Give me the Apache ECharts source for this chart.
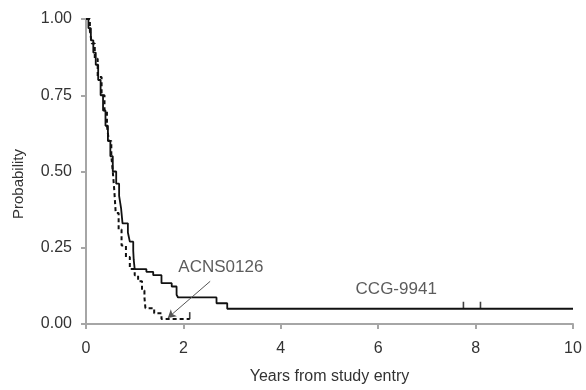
<!DOCTYPE html>
<html>
<head>
<meta charset="utf-8">
<script src="https://cdn.jsdelivr.net/npm/echarts@6/dist/echarts.min.js"></script>
<style>
html,body{margin:0;padding:0;background:#fff;}
#chart{width:586px;height:390px;}
</style>
</head>
<body>
<div id="chart"></div>
<script>
// CCG-9941 (solid) Kaplan-Meier: time (years) and survival after each step
var ccgTime = [0, 0.05, 0.1, 0.15, 0.2, 0.25, 0.3, 0.35, 0.4, 0.45, 0.5, 0.55, 0.62, 0.68, 0.72, 0.75, 0.86, 0.9, 0.97, 0.98, 1.0, 1.24, 1.38, 1.55, 1.76, 1.86, 1.89, 2.68, 2.9, 10];
var ccgSurv = [1.0, 0.97, 0.93, 0.89, 0.85, 0.80, 0.75, 0.70, 0.65, 0.60, 0.55, 0.50, 0.46, 0.42, 0.38, 0.33, 0.30, 0.27, 0.24, 0.21, 0.18, 0.171, 0.16, 0.134, 0.123, 0.096, 0.087, 0.068, 0.05, 0.05];
var ccgCensorTime = [7.75, 8.1];
var ccgCensorSurv = [0.05, 0.05];

// ACNS0126 (dashed)
var acnsTime = [0, 0.08, 0.12, 0.18, 0.24, 0.32, 0.38, 0.43, 0.47, 0.52, 0.55, 0.58, 0.61, 0.67, 0.73, 0.82, 0.9, 1.0, 1.07, 1.15, 1.2, 1.22, 1.4, 1.55, 2.13];
var acnsSurv = [1.0, 0.96, 0.92, 0.87, 0.81, 0.75, 0.70, 0.65, 0.60, 0.55, 0.50, 0.44, 0.364, 0.31, 0.257, 0.22, 0.18, 0.16, 0.14, 0.11, 0.087, 0.052, 0.035, 0.016, 0.016];
var acnsCensorTime = [2.13];
var acnsCensorSurv = [0.016];

var xTicks = [0, 2, 4, 6, 8, 10];
var yTicks = [0, 0.25, 0.5, 0.75, 1.0];

// annotations
var annoNames = ['ACNS0126', 'CCG-9941'];
var annoX = [2.77, 6.37];
var annoY = [0.186, 0.113];
var arrowFrom = [2.55, 0.14];
var arrowTo = [1.68, 0.02];

function zip(a, b) { return a.map(function (v, i) { return [v, b[i]]; }); }

var axisGray = '#a6a6a6';
var textCol = '#333333';
var font = 'Liberation Sans, Arial, sans-serif';

var chart = echarts.init(document.getElementById('chart'), null, {renderer: 'canvas'});
chart.setOption({
  animation: false,
  backgroundColor: '#fff',
  grid: {left: 86, right: 13, top: 19, bottom: 60, containLabel: false},
  xAxis: {
    type: 'value', min: xTicks[0], max: xTicks[xTicks.length - 1], interval: 2,
    name: 'Years from study entry', nameLocation: 'middle', nameGap: 45,
    nameTextStyle: {fontSize: 16, color: textCol, fontFamily: font},
    axisLine: {lineStyle: {color: axisGray, width: 2}},
    axisTick: {show: true, length: 5, lineStyle: {color: axisGray, width: 2}},
    axisLabel: {fontSize: 16, color: textCol, fontFamily: font, margin: 17},
    splitLine: {show: false}
  },
  yAxis: {
    type: 'value', min: yTicks[0], max: yTicks[yTicks.length - 1], interval: 0.25,
    name: 'Probability', nameLocation: 'middle', nameGap: 60, nameRotate: 90,
    nameTextStyle: {fontSize: 15, color: textCol, fontFamily: font, padding: [0, 25, 0, 0]},
    axisLine: {show: true, lineStyle: {color: axisGray, width: 2}},
    axisTick: {show: true, length: 5, lineStyle: {color: axisGray, width: 2}},
    axisLabel: {fontSize: 16, color: textCol, fontFamily: font, margin: 14,
      formatter: function (v) { return v.toFixed(2); }},
    splitLine: {show: false}
  },
  series: [
    {
      name: 'CCG-9941', type: 'line', step: 'end', showSymbol: false, symbol: 'none',
      data: zip(ccgTime, ccgSurv),
      lineStyle: {color: '#111', width: 1.8, type: 'solid'},
      z: 3
    },
    {
      name: 'ACNS0126', type: 'line', step: 'end', showSymbol: false, symbol: 'none',
      data: zip(acnsTime, acnsSurv),
      lineStyle: {color: '#111', width: 2, type: [4, 3]},
      z: 3,
      markLine: {
        silent: true,
        symbol: ['none', 'arrow'], symbolSize: [7, 8],
        label: {show: false},
        lineStyle: {color: '#555', width: 1, type: 'solid'},
        data: [[{coord: arrowFrom}, {coord: arrowTo}]]
      }
    },
    {
      type: 'scatter', symbol: 'rect', symbolSize: [1.6, 7], symbolOffset: [0, -3.5],
      itemStyle: {color: '#111'},
      data: zip(ccgCensorTime, ccgCensorSurv).concat(zip(acnsCensorTime, acnsCensorSurv)),
      z: 4
    },
    {
      type: 'scatter', symbolSize: 0,
      data: annoNames.map(function (n, i) { return {name: n, value: [annoX[i], annoY[i]]}; }),
      label: {show: true, position: 'inside', formatter: '{b}', fontSize: 17, color: textCol, fontFamily: font},
      z: 5
    }
  ]
});
</script>
</body>
</html>
